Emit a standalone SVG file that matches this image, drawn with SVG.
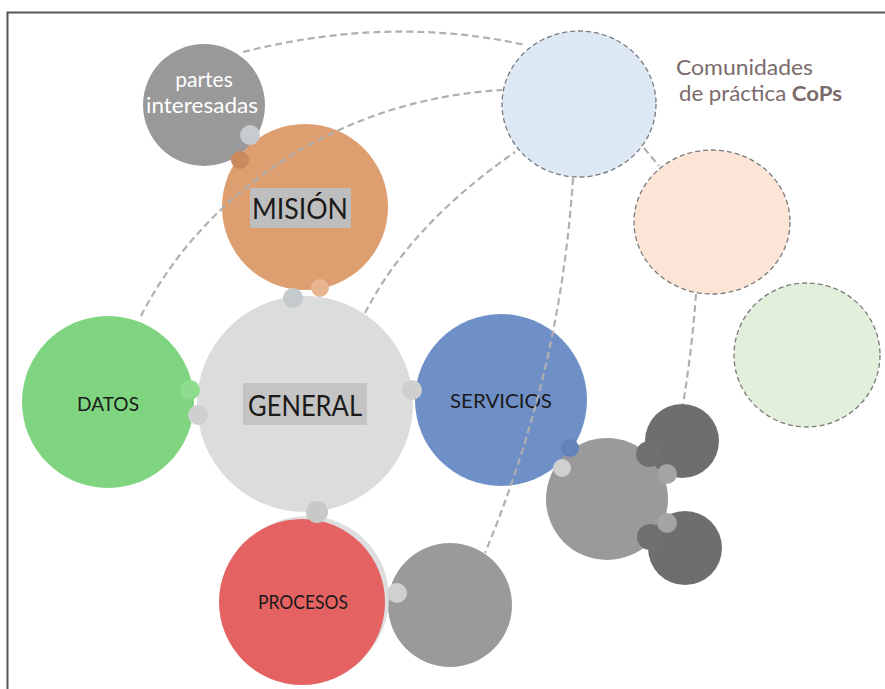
<svg xmlns="http://www.w3.org/2000/svg" width="885" height="689" viewBox="0 0 885 689">
<defs>
<style>
.lbl{font-family:Lato,"Open Sans","Liberation Sans",sans-serif;fill:#1a1a1a;text-anchor:middle}
.big{font-size:29px}
.mid{font-size:20px}
.side{font-family:Lato,"Open Sans","Liberation Sans",sans-serif;font-size:21px;fill:#7b6b6b}
.white{font-family:Lato,"Open Sans","Liberation Sans",sans-serif;font-size:21px;fill:#ffffff;text-anchor:middle}
.cop{stroke:#7a7a7a;stroke-width:1.3;stroke-dasharray:5 3}
.con{fill:none;stroke:#b0b0b0;stroke-width:2.2;stroke-dasharray:7 4}
.knob{stroke:none}
</style>
</defs>
<rect x="0" y="0" width="885" height="689" fill="#ffffff"/>
<path d="M7.5,689 V12.5 H885" fill="none" stroke="#555" stroke-width="2"/>

<g id="cop-azul"><ellipse cx="579" cy="104" rx="77" ry="73" fill="#dde8f5" class="cop"/></g>
<g id="cop-naranja"><ellipse cx="712" cy="222" rx="78" ry="72" fill="#fce4d6" class="cop"/></g>
<g id="cop-verde"><ellipse cx="807" cy="355" rx="73" ry="72" fill="#e2efda" class="cop"/></g>
<g id="cops-titulo">
<text x="676" y="75" class="side" textLength="137" lengthAdjust="spacingAndGlyphs">Comunidades</text>
<text x="679" y="101" class="side" textLength="163" lengthAdjust="spacingAndGlyphs">de práctica <tspan font-weight="bold">CoPs</tspan></text>
</g>

<g id="partes-interesadas">
<circle cx="204" cy="105" r="61" fill="#999999"/>
<text x="204" y="87" class="white">partes</text>
<text x="202" y="113" class="white" textLength="112" lengthAdjust="spacingAndGlyphs">interesadas</text>
</g>
<g id="general">
<circle cx="305" cy="404" r="108" fill="#dcdcdc"/>
<rect x="243" y="383" width="124" height="42" fill="#c4c4c4"/>
<text x="305" y="416" class="lbl big" textLength="114" lengthAdjust="spacingAndGlyphs">GENERAL</text>
</g>
<g id="mision">
<circle cx="305" cy="207" r="83" fill="#dd9e70"/>
<rect x="250" y="188" width="101" height="40" fill="#bebebe"/>
<text x="300" y="219" class="lbl big" textLength="96" lengthAdjust="spacingAndGlyphs">MISIÓN</text>
</g>
<g id="datos">
<circle cx="108" cy="402" r="86" fill="#7fd57f"/>
<text x="108" y="411" class="lbl mid" textLength="62" lengthAdjust="spacingAndGlyphs">DATOS</text>
</g>
<g id="servicios">
<circle cx="501" cy="400" r="86" fill="#6f8fc7"/>
<text x="501" y="408" class="lbl mid" fill="#15203a" textLength="102" lengthAdjust="spacingAndGlyphs">SERVICIOS</text>
</g>
<g id="cluster">
<circle cx="607" cy="499" r="61" fill="#9a9a9a"/>
<circle cx="682" cy="441" r="37" fill="#6e6e6e"/>
<circle cx="685" cy="548" r="37" fill="#6e6e6e"/>
<circle cx="649" cy="454" r="13" fill="#707070" class="knob"/>
<circle cx="650" cy="537" r="13" fill="#707070" class="knob"/>
<circle cx="667" cy="474" r="10" fill="#a4a4a4" class="knob"/>
<circle cx="667" cy="523" r="10" fill="#a4a4a4" class="knob"/>
</g>
<g id="procesos-gris">
<circle cx="450" cy="605" r="62" fill="#9a9a9a"/>
</g>
<g id="procesos">
<circle cx="307" cy="598" r="82" fill="#dedede"/>
<circle cx="302" cy="602" r="83" fill="#e46262"/>
<text x="303" y="609" class="lbl mid" fill="#2a1010" textLength="90" lengthAdjust="spacingAndGlyphs">PROCESOS</text>
</g>
<g id="uniones">
<circle cx="250" cy="135" r="10" fill="#c8ccce" class="knob"/>
<circle cx="240" cy="160" r="9" fill="#c98a5e" class="knob"/>
<circle cx="293" cy="298" r="10" fill="#c5cacd" class="knob"/>
<circle cx="320" cy="288" r="9" fill="#e6b590" class="knob"/>
<circle cx="190" cy="390" r="10" fill="#8edc8e" class="knob"/>
<circle cx="198" cy="415" r="10" fill="#cfcfd2" class="knob"/>
<circle cx="412" cy="390" r="10" fill="#cfcfcf" class="knob"/>
<circle cx="317" cy="512" r="11" fill="#c8c8c8" class="knob"/>
<circle cx="570" cy="448" r="9" fill="#6282ba" class="knob"/>
<circle cx="562" cy="468" r="9" fill="#d0d0d0" class="knob"/>
<circle cx="397" cy="593" r="10" fill="#d0d0d0" class="knob"/>
</g>

<g id="conectores">
<path class="con" d="M243,52 Q390,15 525,45"/>
<path class="con" d="M141,316 C200,200 330,100 502,90"/>
<path class="con" d="M365,313 Q410,225 515,152"/>
<path class="con" d="M573,178 C565,300 540,420 485,553"/>
<path class="con" d="M644,148 L659,166"/>
<path class="con" d="M696,294 Q692,350 683,404"/>
</g>
</svg>
